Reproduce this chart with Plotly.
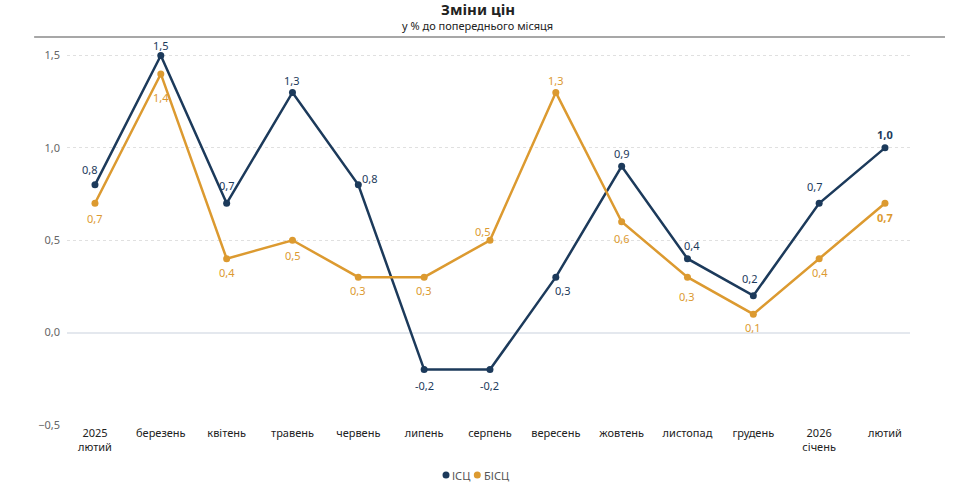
import plotly.graph_objects as go

categories = ["2025<br>лютий", "березень", "квітень", "травень", "червень", "липень",
              "серпень", "вересень", "жовтень", "листопад", "грудень", "2026<br>січень", "лютий"]
isc = [0.8, 1.5, 0.7, 1.3, 0.8, -0.2, -0.2, 0.3, 0.9, 0.4, 0.2, 0.7, 1.0]
bisc = [0.7, 1.4, 0.4, 0.5, 0.3, 0.3, 0.5, 1.3, 0.6, 0.3, 0.1, 0.4, 0.7]
series_names = ["ІСЦ", "БІСЦ"]

# label offsets (pixels) relative to each point
isc_dx = [-5, 0, 0, 0, 12, 0, 0, 7, 0, 5, -3, -4, 0]
isc_dy = [15, 10, 18, 12, 6, -16, -16, -13, 13, 13, 17, 17, 13]
bisc_dx = [0, 0, 0, 1, 0, 0, -7, 0, 0, 0, 0, 1, 0]
bisc_dy = [-15, -24, -14, -15, -13, -13, 9, 12, -17, -19, -13, -14, -14]

NAVY = "#1c3a5b"
GOLD = "#dc9a30"
FONT = "Noto Sans"

def fmt(v, last):
    s = f"{v:.1f}".replace(".", ",")
    return f"<b>{s}</b>" if last else s

fig = go.Figure()
for name, vals, col in [(series_names[0], isc, NAVY), (series_names[1], bisc, GOLD)]:
    fig.add_trace(go.Scatter(
        x=categories, y=vals, name=name, mode="lines+markers", showlegend=False,
        line=dict(color=col, width=2.5), marker=dict(color=col, size=7), cliponaxis=False))

annotations = []
for vals, dxs, dys, col in [(isc, isc_dx, isc_dy, NAVY), (bisc, bisc_dx, bisc_dy, GOLD)]:
    for i, v in enumerate(vals):
        annotations.append(dict(
            x=categories[i], y=v, xref="x", yref="y", text=fmt(v, i == len(vals) - 1),
            showarrow=False, xshift=dxs[i], yshift=dys[i], xanchor="center", yanchor="middle",
            font=dict(color=col, size=11, family=FONT)))

# custom compact legend (dot + label)
LEG_Y = -0.1289
leg_items = [(series_names[0], NAVY, 0.4496, 0.4545), (series_names[1], GOLD, 0.4867, 0.4925)]
shapes = [dict(type="line", xref="paper", yref="paper", x0=-0.039, x1=1.0415, y0=1, y1=1,
               line=dict(color="#8a8a8a", width=1.5))]
for name, col, xd, xt in leg_items:
    shapes.append(dict(type="circle", xref="paper", yref="paper", xsizemode="pixel",
                       ysizemode="pixel", xanchor=xd, yanchor=LEG_Y, x0=-3.5, x1=3.5,
                       y0=-3.5, y1=3.5, fillcolor=col, line=dict(width=0)))
    annotations.append(dict(text=name, xref="paper", yref="paper", x=xt, y=LEG_Y,
                            xanchor="left", yanchor="middle", showarrow=False,
                            font=dict(size=11, color="#555", family=FONT)))

annotations += [
    dict(text="<b>Зміни цін</b>", xref="paper", yref="paper", x=0.487, y=1.0,
         yshift=28, xanchor="center", yanchor="middle", showarrow=False,
         font=dict(size=15, color="#222", family=FONT)),
    dict(text="у % до попереднього місяця", xref="paper", yref="paper", x=0.487, y=1.0,
         yshift=12, xanchor="center", yanchor="middle", showarrow=False,
         font=dict(size=11, color="#222", family=FONT)),
]

fig.update_layout(
    width=967, height=493, autosize=False,
    margin=dict(l=67, r=57, t=37, b=68, autoexpand=False),
    paper_bgcolor="white", plot_bgcolor="white",
    separators=", ",
    font=dict(family=FONT, size=11, color="#333"),
    showlegend=False,
    xaxis=dict(type="category", range=[-0.425, 12.38], showgrid=False, zeroline=False,
               showline=False, ticks="", tickfont=dict(size=11, color="#222", family=FONT)),
    yaxis=dict(range=[-0.5, 1.6], tickvals=[-0.5, 0, 0.5, 1.0, 1.5], tickformat=".1f",
               showgrid=True, gridcolor="#e0e0e0", griddash="dot", gridwidth=1,
               zeroline=True, zerolinecolor="#e4e8ee", zerolinewidth=2,
               showline=False, ticks="", ticklabelstandoff=6,
               tickfont=dict(size=11, color="#666", family=FONT)),
    annotations=annotations,
    shapes=shapes,
)
fig.write_html("out.html", config={"displayModeBar": False},
               post_script="document.body.style.margin='0';document.body.style.overflow='hidden';")
